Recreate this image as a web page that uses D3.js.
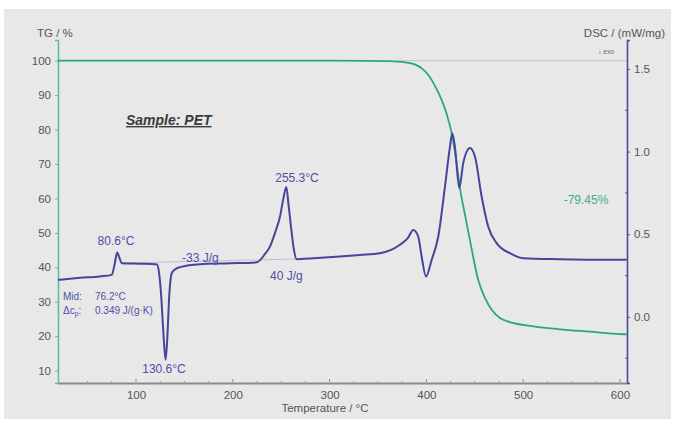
<!DOCTYPE html>
<html>
<head>
<meta charset="utf-8">
<script src="https://cdn.jsdelivr.net/npm/d3@7/dist/d3.min.js"></script>
<style>
  html, body { margin: 0; padding: 0; background: #ffffff; }
  svg { display: block; font-family: "Liberation Sans", Arial, sans-serif; }
</style>
</head>
<body>
<svg id="chart" width="676" height="425"></svg>
<script>
// Thermogravimetry (TG) trace: temperature in °C and remaining mass in %
const tgTemp = [19.4, 150, 269, 340, 362, 378, 388, 395.6, 401.6, 408.9, 416.1, 421.2, 426.1, 430.6, 434.7, 439.9, 445.0, 453.6, 460.5, 467.7, 476.0, 486.3, 507.0, 538.0, 569.0, 600, 607];
const tgMass = [100, 100, 100, 99.95, 99.85, 99.5, 98.9, 97.7, 96.0, 92.7, 88.4, 84.3, 79.0, 71.5, 63.0, 55.2, 47.9, 36.3, 31.1, 27.6, 25.3, 24.1, 23.0, 22.0, 21.3, 20.6, 20.5];

// DSC trace: temperature in °C and heat flow in mW/mg (exo up)
const dscTemp = [19.4, 42.1, 62.8, 74.9, 77.8, 80.6, 82.9, 85.2, 104.1, 121.4, 123.7, 126.3, 128.4, 130.6, 132.5, 134.1, 136.9, 140.3, 145.4, 166.1, 197.1, 224.7, 233.3, 238.4, 243.6, 248.8, 252.4, 255.3, 257.6, 260.9, 263.2, 266.0, 283.2, 310.7, 331.4, 352.1, 372.7, 381.0, 386.5, 391.6, 395.1, 399.6, 405.5, 412.3, 419.2, 424.4, 426.7, 429.5, 434.0, 438.1, 445.0, 450.2, 457.1, 463.9, 472.6, 486.3, 500.1, 538.0, 607];
const dscFlow = [0.224, 0.236, 0.245, 0.254, 0.315, 0.389, 0.357, 0.325, 0.322, 0.318, 0.272, 0.103, -0.109, -0.260, -0.109, 0.103, 0.264, 0.287, 0.301, 0.319, 0.324, 0.330, 0.381, 0.425, 0.508, 0.607, 0.720, 0.785, 0.678, 0.506, 0.405, 0.349, 0.355, 0.366, 0.375, 0.385, 0.436, 0.478, 0.526, 0.486, 0.365, 0.244, 0.345, 0.486, 0.788, 1.030, 1.111, 1.030, 0.779, 0.930, 1.021, 0.970, 0.728, 0.546, 0.446, 0.385, 0.355, 0.349, 0.345];

// Axis ticks
const tempTicks = [100, 200, 300, 400, 500, 600];
const tgTicks = [10, 20, 30, 40, 50, 60, 70, 80, 90, 100];
const dscTicks = [0.0, 0.5, 1.0, 1.5];

// Annotation texts
const sampleLabel = "Sample: PET";
const tgLossLabel = "-79.45%";

const svg = d3.select("#chart");

const plot = { left: 58, right: 627, top: 40, bottom: 383 };

// Panel background
svg.append("rect")
  .attr("x", 4).attr("y", 9).attr("width", 667).attr("height", 410)
  .attr("fill", "#e8e8e8");

const x = d3.scaleLinear().domain([19.4, 607.3]).range([plot.left, plot.right]);
const yTG = d3.scaleLinear().domain([6.4, 106]).range([plot.bottom, plot.top]);
const yDSC = d3.scaleLinear().domain([-0.40, 1.675]).range([plot.bottom, plot.top]);

const tgColor = "#2aa878";
const dscColor = "#45459c";
const labelBlue = "#4f4fa8";
const tickText = "#555555";

// Faint reference lines: TG 100 % level and DSC integration baseline
svg.append("line")
  .attr("x1", x(370)).attr("x2", x(607))
  .attr("y1", yTG(100)).attr("y2", yTG(100))
  .attr("stroke", "#b9c9c2").attr("stroke-width", 1);
svg.append("line")
  .attr("x1", x(84)).attr("x2", x(268))
  .attr("y1", yDSC(0.326)).attr("y2", yDSC(0.350))
  .attr("stroke", "#b4b4cc").attr("stroke-width", 0.8);

// Bottom axis
const xAxis = d3.axisBottom(x).tickValues(tempTicks).tickSize(0).tickPadding(8);
const gx = svg.append("g").attr("transform", `translate(0,${plot.bottom})`).call(xAxis);
gx.select(".domain").attr("stroke", "#8a8a8a").attr("stroke-width", 2);
gx.selectAll("text").attr("fill", tickText).attr("font-size", 11.5);
// minor ticks on the temperature axis
const minorT = d3.range(50, 607, 25).filter(v => v > 20);
svg.append("g").selectAll("line").data(minorT).join("line")
  .attr("x1", d => x(d)).attr("x2", d => x(d))
  .attr("y1", plot.bottom - 1).attr("y2", d => plot.bottom - (d % 100 === 0 ? 4 : 2))
  .attr("stroke", "#8a8a8a").attr("stroke-width", 1);

// Left TG axis
const yAxisL = d3.axisLeft(yTG).tickValues(tgTicks).tickSize(3).tickPadding(4);
const gl = svg.append("g").attr("transform", `translate(${plot.left},0)`).call(yAxisL);
gl.select(".domain").attr("stroke", "#5cbf9f").attr("stroke-width", 1.6);
gl.selectAll(".tick line").attr("stroke", "#5cbf9f");
gl.selectAll("text").attr("fill", tickText).attr("font-size", 11.5);

// Right DSC axis
const yAxisR = d3.axisRight(yDSC).tickValues(dscTicks).tickSize(3).tickPadding(4).tickFormat(d3.format(".1f"));
const gr = svg.append("g").attr("transform", `translate(${plot.right},0)`).call(yAxisR);
gr.select(".domain").attr("stroke", "#4a4a96").attr("stroke-width", 1.6);
gr.selectAll(".tick line").attr("stroke", "#4a4a96");
gr.selectAll("text").attr("fill", tickText).attr("font-size", 11.5);
const minorD = [-0.25, 0.25, 0.75, 1.25];
svg.append("g").selectAll("line").data(minorD).join("line")
  .attr("x1", plot.right - 2).attr("x2", plot.right)
  .attr("y1", d => yDSC(d)).attr("y2", d => yDSC(d))
  .attr("stroke", "#4a4a96").attr("stroke-width", 1);

// Axis titles
svg.append("text").attr("x", 37).attr("y", 37).attr("font-size", 11.5).attr("fill", "#555")
  .text("TG / %");
svg.append("text").attr("x", 665).attr("y", 37).attr("text-anchor", "end").attr("font-size", 11.5).attr("fill", "#555")
  .text("DSC / (mW/mg)");
svg.append("text").attr("x", 325).attr("y", 412).attr("text-anchor", "middle").attr("font-size", 11.5).attr("fill", "#555")
  .text("Temperature / °C");
svg.append("text").attr("x", 606).attr("y", 54).attr("text-anchor", "middle").attr("font-size", 6.5).attr("fill", "#666")
  .text("↓ exo");

// Curves
const tgData = tgTemp.map((t, i) => [t, tgMass[i]]);
const dscData = dscTemp.map((t, i) => [t, dscFlow[i]]);

svg.append("path")
  .datum(tgData)
  .attr("fill", "none").attr("stroke", tgColor).attr("stroke-width", 1.8)
  .attr("d", d3.line().x(d => x(d[0])).y(d => yTG(d[1])).curve(d3.curveMonotoneX));

svg.append("path")
  .datum(dscData)
  .attr("fill", "none").attr("stroke", dscColor).attr("stroke-width", 2)
  .attr("stroke-linejoin", "round")
  .attr("d", d3.line().x(d => x(d[0])).y(d => yDSC(d[1])).curve(d3.curveMonotoneX));

// Annotations
svg.append("text").attr("x", 126).attr("y", 125)
  .attr("font-size", 14).attr("font-weight", "bold").attr("font-style", "italic")
  .attr("text-decoration", "underline").attr("fill", "#3a3a3a")
  .text(sampleLabel);

const ann = svg.append("g").attr("fill", labelBlue).attr("font-size", 12);
ann.append("text").attr("x", 116).attr("y", 245).attr("text-anchor", "middle").text("80.6°C");
ann.append("text").attr("x", 164).attr("y", 373).attr("text-anchor", "middle").text("130.6°C");
ann.append("text").attr("x", 297).attr("y", 182).attr("text-anchor", "middle").text("255.3°C");
ann.append("text").attr("x", 182).attr("y", 262).text("-33 J/g");
ann.append("text").attr("x", 270).attr("y", 280).text("40 J/g");

const small = svg.append("g").attr("fill", labelBlue).attr("font-size", 10);
small.append("text").attr("x", 63).attr("y", 300).text("Mid:");
small.append("text").attr("x", 95).attr("y", 300).text("76.2°C");
const dcp = small.append("text").attr("x", 63).attr("y", 314);
dcp.append("tspan").text("Δc");
dcp.append("tspan").attr("font-size", 7).attr("dy", 2).text("p");
dcp.append("tspan").attr("dy", -2).text(":");
small.append("text").attr("x", 95).attr("y", 314).text("0.349 J/(g·K)");

svg.append("text").attr("x", 586).attr("y", 204).attr("text-anchor", "middle")
  .attr("font-size", 12).attr("fill", "#3fae80").text(tgLossLabel);
</script>
</body>
</html>
